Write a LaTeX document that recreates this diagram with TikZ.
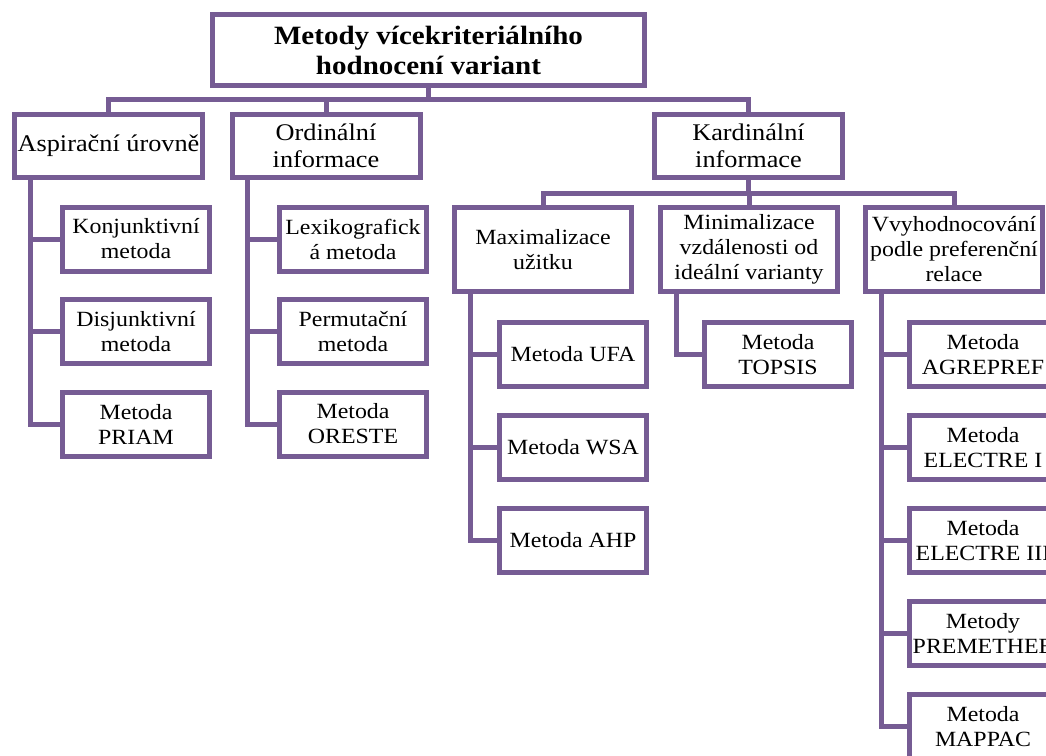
\documentclass[tikz,border=0pt]{standalone}
\usepackage{fontspec}
\setmainfont{Liberation Serif}[FakeStretch=1.1]
\definecolor{frame}{RGB}{118,92,148}

\begin{document}
\begin{tikzpicture}[x=1pt, y=-1pt,
  box/.style={draw=frame, line width=5pt, fill=white, align=center, inner sep=0pt,
    minimum width=147pt, minimum height=64pt, font=\fontsize{21.7}{25}\selectfont},
  topbox/.style={box, minimum width=188pt, minimum height=63pt, font=\fontsize{23.9}{27.5}\selectfont},
  midbox/.style={box, minimum width=177pt, minimum height=84pt},
  rootbox/.style={box, minimum width=432pt, minimum height=71pt, font=\bfseries\fontsize{26.4}{30}\selectfont},
  conn/.style={draw=frame, line width=5pt}]
  \useasboundingbox (0,0) rectangle (1046,755);
  \clip (0,0) rectangle (1046,755);

  % root and first level
  \node[rootbox] (root) at (428.5,50) {Metody vícekriteriálního\\hodnocení variant};
  \node[topbox] (asp) at (108.5,146) {Aspirační úrovně};
  \node[topbox] (ord) at (326,146) {Ordinální\\informace};
  \node[topbox] (kard) at (748.5,146) {Kardinální\\informace};

  \coordinate (bus) at (428.5,99.5);
  \draw[conn] (root.south) -- (bus);
  \draw[conn] (asp.north) |- (kard.north |- bus) -- (kard.north);
  \draw[conn] (ord.north) -- (ord.north |- bus);

  % second level under Kardinalni
  \node[midbox] (max) at (543,249.5) {Maximalizace\\užitku};
  \node[midbox] (mini) at (749,249.5) {Minimalizace\\vzdálenosti od\\ideální varianty};
  \node[midbox] (vyh) at (954,249.5) {Vvyhodnocování\\podle preferenční\\relace};

  \coordinate (bus2) at (748.5,193);
  \draw[conn] (kard.south) -- (kard.south |- bus2);
  \draw[conn] (max.north) |- (vyh.north |- bus2) -- (vyh.north);
  \draw[conn] (mini.north) -- (mini.north |- bus2);

  % leaves
  \foreach \txt [count=\i] in {Konjunktivní\\metoda, Disjunktivní\\metoda, Metoda\\PRIAM}
    \node[box] (A-\i) at (136,{146.5+92.5*\i}) {\txt};
  \foreach \txt [count=\i] in {Lexikografick\\á metoda, Permutační\\metoda, Metoda\\ORESTE}
    \node[box] (O-\i) at (353,{146.5+92.5*\i}) {\txt};
  \foreach \txt [count=\i] in {Metoda UFA, Metoda WSA, Metoda AHP}
    \node[box] (M-\i) at (573,{261.5+93*\i}) {\txt};
  \node[box] (T-1) at (778,354.5) {Metoda\\TOPSIS};
  \foreach \txt [count=\i] in {Metoda\\AGREPREF, Metoda\\ELECTRE I, Metoda\\ELECTRE III,
      Metody\\PREMETHEE, Metoda\\MAPPAC}
    \node[box] (V-\i) at (983,{261.5+93*\i}) {\txt};

  % spines and branches
  \foreach \p/\c/\n in {asp/A/3, ord/O/3, max/M/3, mini/T/1, vyh/V/5}{
    \coordinate (\p-s) at ([xshift=18pt]\p.south west);
    \draw[conn] (\p-s) |- (\c-\n.west);
    \foreach \i in {1,...,\n}
      \draw[conn] (\c-\i.west) -- (\c-\i.west -| \p-s);
  }
\end{tikzpicture}
\end{document}
